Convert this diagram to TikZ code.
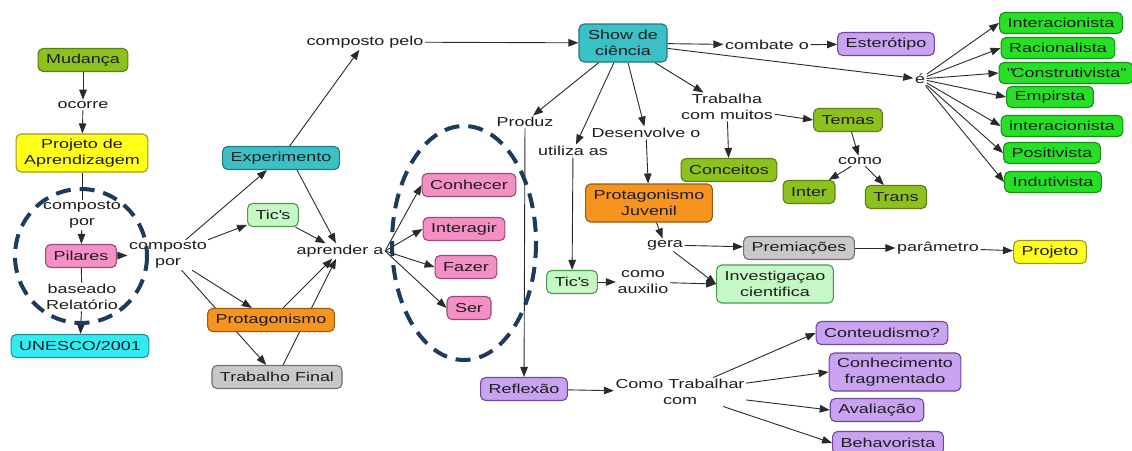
\documentclass[tikz,border=0pt]{standalone}
\usepackage{fontspec}
\setmainfont[FakeStretch=1.38]{Liberation Sans}
\usetikzlibrary{arrows.meta}
\pgfdeclarelayer{links}
\pgfsetlayers{links,main}

\definecolor{txtC}{HTML}{1E1E1E}
\definecolor{lineC}{HTML}{2A2A2A}
\definecolor{ringC}{HTML}{1E3A5C}
\definecolor{oliveF}{HTML}{8CC11E}\definecolor{oliveD}{HTML}{5B7F12}
\definecolor{yelF}{HTML}{FFFF1A}\definecolor{yelD}{HTML}{9A9A20}
\definecolor{pinkF}{HTML}{F590C4}\definecolor{pinkD}{HTML}{9A4A78}
\definecolor{cyanF}{HTML}{2EECF2}\definecolor{cyanD}{HTML}{238E96}
\definecolor{tealF}{HTML}{3BC0C8}\definecolor{tealD}{HTML}{1F7A80}
\definecolor{mintF}{HTML}{C6F8C6}\definecolor{mintD}{HTML}{4A9A4A}
\definecolor{oranF}{HTML}{F7941E}\definecolor{oranD}{HTML}{9A5A10}
\definecolor{grayF}{HTML}{C8C8C8}\definecolor{grayD}{HTML}{707070}
\definecolor{purpF}{HTML}{C9A2F2}\definecolor{purpD}{HTML}{6E4A9A}
\definecolor{lgrF}{HTML}{26E026}\definecolor{lgrD}{HTML}{179017}

\tikzset{
  concept/.style={draw, rounded corners=5pt, line width=1.1pt, inner xsep=8pt,
    inner ysep=3pt, minimum height=23pt, align=center, text=txtC,
    font=\fontsize{13}{16}\selectfont},
  twoline/.style={minimum height=38pt},
  olivebox/.style={concept, fill=oliveF, draw=oliveD},
  yelbox/.style={concept, fill=yelF, draw=yelD},
  pinkbox/.style={concept, fill=pinkF, draw=pinkD},
  cyanbox/.style={concept, fill=cyanF, draw=cyanD},
  tealbox/.style={concept, fill=tealF, draw=tealD},
  mintbox/.style={concept, fill=mintF, draw=mintD},
  oranbox/.style={concept, fill=oranF, draw=oranD},
  graybox/.style={concept, fill=grayF, draw=grayD},
  purpbox/.style={concept, fill=purpF, draw=purpD},
  lgrbox/.style={concept, fill=lgrF, draw=lgrD, inner ysep=2pt, minimum height=21pt},
  phrase/.style={inner sep=1.5pt, align=center, text=txtC,
    font=\fontsize{13}{16}\selectfont},
  lnk/.style={draw=lineC, line width=0.9pt, -{Triangle[length=10pt,width=7.5pt]}},
  ln/.style={draw=lineC, line width=0.9pt},
  ring/.style={draw=ringC, line width=4pt, dash pattern=on 15pt off 9pt}
}

\begin{document}
\begin{tikzpicture}[x=1pt,y=-1pt]
\useasboundingbox (0,0) rectangle (1132,450);
\clip (0,0) rectangle (1132,450);

% left column
\node[olivebox] (mud) at (83,60) {Mudança};
\node[phrase] (ocorre) at (83,105) {ocorre};
\node[yelbox, twoline] (proj) at (82,153) {Projeto de\\Aprendizagem};
\node[phrase] (cp1) at (82,215) {composto\\por};
\node[pinkbox] (pil) at (81,256) {Pilares};
\node[phrase] (bas) at (82,297) {baseado\\Relatório};
\node[cyanbox] (unesco) at (80,346) {UNESCO/2001};

% second column
\node[phrase] (cp2) at (168,255) {composto\\por};
\node[tealbox] (exp) at (281,158) {Experimento};
\node[mintbox] (tic1) at (273,215) {Tic\textquotesingle s};
\node[phrase] (apa) at (340,251) {aprender a};
\node[oranbox] (prot) at (271,320) {Protagonismo};
\node[graybox] (tf) at (277,377) {Trabalho Final};
\node[phrase] (cpelo) at (365,42) {composto pelo};

% verbs
\node[pinkbox] (con) at (469,185) {Conhecer};
\node[pinkbox] (inte) at (464,229) {Interagir};
\node[pinkbox] (faz) at (466,267) {Fazer};
\node[pinkbox] (ser) at (469,308) {Ser};

% show de ciência
\node[tealbox, twoline, minimum width=88pt] (show) at (623,43) {Show de\\ciência};
\node[phrase] (comb) at (767,45) {combate o};
\node[purpbox] (est) at (886,44) {Esterótipo};
\node[phrase] (eacc) at (920,79) {é};
\node[lgrbox] (g1) at (1061,23) {Interacionista};
\node[lgrbox] (g2) at (1058,48) {Racionalista};
\node[lgrbox] (g3) at (1066,73) {\textquotedbl Construtivista\textquotedbl};
\node[lgrbox] (g4) at (1050,97) {Empirsta};
\node[lgrbox] (g5) at (1062,126) {interacionista};
\node[lgrbox] (g6) at (1052,153) {Positivista};
\node[lgrbox] (g7) at (1053,182) {Indutivista};

\node[phrase] (produz) at (525,122) {Produz};
\node[phrase] (util) at (573,151) {utiliza as};
\node[phrase] (desenv) at (646,133) {Desenvolve o};
\node[phrase] (trab) at (727,107) {Trabalha\\com muitos};
\node[olivebox] (temas) at (848,120) {Temas};
\node[olivebox] (conc) at (729,170) {Conceitos};
\node[phrase] (como) at (860,161) {como};
\node[olivebox] (inter) at (809,192) {Inter};
\node[olivebox] (trans) at (896,197) {Trans};

\node[oranbox, twoline] (pj) at (649,203) {Protagonismo\\Juvenil};
\node[phrase] (gera) at (665,245) {gera};
\node[graybox] (prem) at (799,248) {Premiações};
\node[phrase] (param) at (938,248) {parâmetro};
\node[yelbox] (projeto) at (1050,252) {Projeto};
\node[mintbox, twoline] (inv) at (775,284) {Investigaçao\\cientifica};
\node[mintbox] (tic2) at (572,282) {Tic\textquotesingle s};
\node[phrase] (aux) at (643,282) {como\\auxilio};

\node[purpbox] (refl) at (524,389) {Reflexão};
\node[phrase] (ctc) at (680,392) {Como Trabalhar\\com};
\node[purpbox] (cont) at (882,333) {Conteudismo?};
\node[purpbox, twoline] (conh) at (895,372) {Conhecimento\\fragmentado};
\node[purpbox] (aval) at (877,410) {Avaliação};
\node[purpbox] (beh) at (888,443) {Behavorista};

\begin{pgfonlayer}{links}
  \fill[white] (0,0) rectangle (1132,450);
  \draw[lnk] (mud) -- (ocorre);
  \draw[lnk] (ocorre) -- (proj);
  \draw[ln] (proj) -- (cp1);
  \draw[lnk] (cp1) -- (pil);
  \draw[lnk] (pil) -- (cp2);
  \draw[ln] (pil) -- (bas);
  \draw[lnk] (bas) -- (unesco);

  \draw[lnk] (cp2) -- (exp);
  \draw[lnk] (cp2) -- (tic1);
  \draw[lnk] (cp2) -- (prot);
  \draw[lnk] (cp2) -- (tf);
  \draw[lnk] ([xshift=16pt]exp.south) -- (apa);
  \draw[lnk] (tic1) -- (apa);
  \draw[lnk] (prot) -- (apa);
  \draw[lnk] (tf) -- (apa);
  \draw[lnk] (exp) -- (cpelo);
  \draw[lnk] (cpelo) -- (show);

  \draw[lnk] (apa.east) -- (con.west);
  \draw[lnk] (apa.east) -- (inte.west);
  \draw[lnk] (apa.east) -- (faz.west);
  \draw[lnk] (apa.east) -- (ser.west);

  \draw[lnk] (show) -- (comb);
  \draw[lnk] (comb) -- (est);
  \draw[lnk] (show) -- (eacc);
  \foreach \g in {g1,g2,g3,g4,g5,g6,g7}
    \draw[lnk] (eacc) -- (\g.west);

  \draw[lnk] (show) -- (produz);
  \draw[lnk] (show) -- (util);
  \draw[lnk] (show) -- (desenv);
  \draw[lnk] (show) -- (trab);
  \draw[lnk] (trab) -- (temas.west);
  \draw[lnk] (trab) -- (conc);
  \draw[lnk] (temas) -- (como);
  \draw[lnk] (como) -- (inter);
  \draw[lnk] (como) -- (trans);

  \draw[lnk] (desenv) -- (pj);
  \draw[lnk] (pj) -- (gera);
  \draw[lnk] (gera) -- (prem);
  \draw[lnk] (prem) -- (param);
  \draw[lnk] (param) -- (projeto);
  \draw[lnk] (gera) -- (inv.west);
  \draw[lnk] (util) -- (tic2);
  \draw[lnk] (tic2) -- (aux);
  \draw[lnk] (aux) -- (inv.west);

  \draw[lnk] (produz) -- (refl);
  \draw[lnk] (refl) -- (ctc);
  \draw[lnk] (ctc) -- (cont.west);
  \draw[lnk] (ctc) -- (conh.west);
  \draw[lnk] (ctc) -- (aval.west);
  \draw[lnk] (ctc) -- (beh.west);
\end{pgfonlayer}

% dashed groupings
\draw[ring] (81,256) ellipse [x radius=66, y radius=67];
\draw[ring] (464,243) ellipse [x radius=72, y radius=117];
\end{tikzpicture}
\end{document}
